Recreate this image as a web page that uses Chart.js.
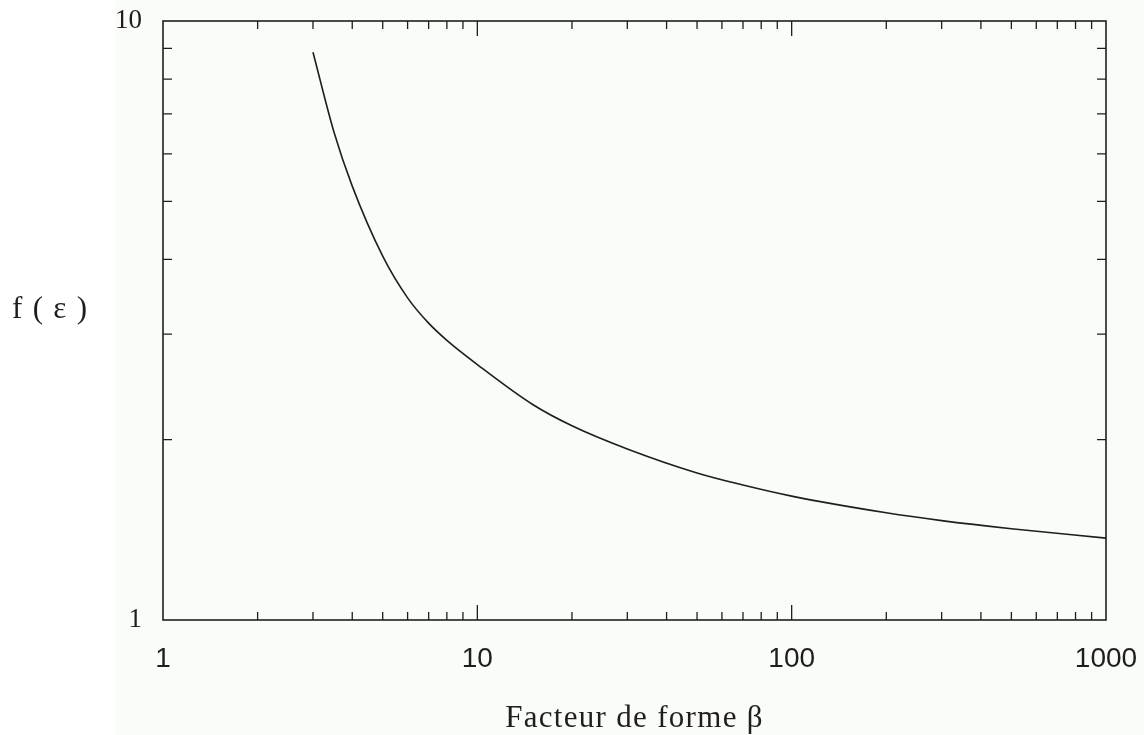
<!DOCTYPE html>
<html>
<head>
<meta charset="utf-8">
<script src="https://cdn.jsdelivr.net/npm/chart.js@4.4.1/dist/chart.umd.min.js"></script>
<style>
  body { margin: 0; background: #fff; }
  #wrap { width: 1144px; height: 735px; position: relative; }
</style>
</head>
<body>
<div id="wrap"><canvas id="myChart"></canvas></div>
<script>
// shape factor beta (x) and f(epsilon) (y)
const beta = [3, 3.5, 4, 5, 6, 7, 8, 10, 15, 20, 30, 50, 70, 100, 200, 300, 500, 1000];
const fEps = [8.87, 6.52, 5.3, 4.05, 3.45, 3.13, 2.93, 2.67, 2.29, 2.11, 1.93, 1.76, 1.68, 1.61, 1.51, 1.465, 1.42, 1.37];

const xTickLabels = [1, 10, 100, 1000];
const yTickLabels = [1, 10];
const xMinorTicks = [2, 3, 4, 5, 6, 7, 8, 9, 20, 30, 40, 50, 60, 70, 80, 90, 200, 300, 400, 500, 600, 700, 800, 900];
const xMajorTicks = [10, 100];
const yMinorTicks = [2, 3, 4, 5, 6, 7, 8, 9];

const ink = "#1e1e1e";

// faint paper tint of the scan
const paperPlugin = {
  id: "paper",
  beforeDraw: (chart) => {
    const ctx = chart.ctx;
    ctx.save();
    ctx.fillStyle = "#ffffff";
    ctx.fillRect(0, 0, chart.width, chart.height);
    ctx.fillStyle = "#f9fcf7";
    ctx.fillRect(115, 0, chart.width - 115, chart.height);
    ctx.restore();
  },
};

// frame, inward ticks and the two axis titles
const framePlugin = {
  id: "frame",
  afterDraw: (chart) => {
    const ctx = chart.ctx;
    const a = chart.chartArea;
    const xs = chart.scales.x;
    const ys = chart.scales.y;
    ctx.save();
    ctx.strokeStyle = ink;
    ctx.lineWidth = 1.6;
    ctx.strokeRect(a.left, a.top, a.right - a.left, a.bottom - a.top);

    ctx.lineWidth = 1.3;
    ctx.beginPath();
    const xTick = (v, len) => {
      const px = xs.getPixelForValue(v);
      ctx.moveTo(px, a.bottom);
      ctx.lineTo(px, a.bottom - len);
      ctx.moveTo(px, a.top);
      ctx.lineTo(px, a.top + len);
    };
    xMinorTicks.forEach((v) => xTick(v, 8));
    xMajorTicks.forEach((v) => xTick(v, 15));
    yMinorTicks.forEach((v) => {
      const py = ys.getPixelForValue(v);
      ctx.moveTo(a.left, py);
      ctx.lineTo(a.left + 9, py);
      ctx.moveTo(a.right, py);
      ctx.lineTo(a.right - 9, py);
    });
    ctx.stroke();

    ctx.fillStyle = ink;
    ctx.font = "31px 'Liberation Serif'";
    ctx.letterSpacing = "1.3px";
    ctx.textBaseline = "alphabetic";
    ctx.textAlign = "center";
    ctx.fillText("Facteur de forme \u03b2", (a.left + a.right) / 2, 727);
    ctx.textAlign = "left";
    ctx.fillText("f ( \u03b5 )", 12, 318);
    ctx.restore();
  },
};

const ctx = document.getElementById("myChart");
new Chart(ctx, {
  type: "line",
  data: {
    datasets: [
      {
        data: beta.map((b, i) => ({ x: b, y: fEps[i] })),
        borderColor: ink,
        borderWidth: 1.6,
        pointRadius: 0,
        cubicInterpolationMode: "monotone",
        fill: false,
      },
    ],
  },
  options: {
    responsive: true,
    maintainAspectRatio: false,
    animation: false,
    layout: { padding: { top: 21, right: 38, left: 0, bottom: 0 } },
    plugins: { legend: { display: false }, tooltip: { enabled: false } },
    scales: {
      x: {
        type: "logarithmic",
        min: 1,
        max: 1000,
        grid: { display: false, drawTicks: false },
        border: { display: false },
        afterBuildTicks: (scale) => {
          scale.ticks = xTickLabels.map((v) => ({ value: v }));
        },
        afterFit: (scale) => {
          scale.height = 115;
          scale.paddingLeft = 0;
          scale.paddingRight = 0;
        },
        ticks: {
          padding: 22,
          color: ink,
          font: { family: "'Liberation Sans'", size: 28 },
          maxRotation: 0,
          callback: (v) => String(v),
        },
      },
      y: {
        type: "logarithmic",
        min: 1,
        max: 10,
        grid: { display: false, drawTicks: false },
        border: { display: false },
        afterBuildTicks: (scale) => {
          scale.ticks = yTickLabels.map((v) => ({ value: v }));
        },
        afterFit: (scale) => {
          scale.width = 163;
          scale.paddingTop = 0;
          scale.paddingBottom = 0;
        },
        ticks: {
          padding: 21,
          color: ink,
          font: { family: "'Liberation Serif'", size: 27 },
          callback: (v) => String(v),
        },
      },
    },
  },
  plugins: [paperPlugin, framePlugin],
});
</script>
</body>
</html>
